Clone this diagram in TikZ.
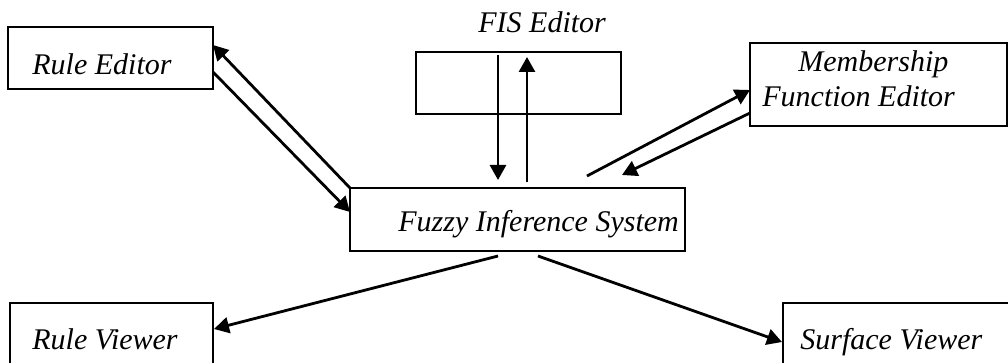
\documentclass[tikz,border=0pt]{standalone}
\usepackage{fontspec}
\setmainfont{Liberation Serif}
\usetikzlibrary{arrows.meta,calc}
\begin{document}
\begin{tikzpicture}[
  x=0.5pt, y=-0.5pt,
  box/.style={draw, line width=1pt, inner sep=0pt, outer sep=0pt, rectangle},
  lbl/.style={anchor=base west, inner sep=0pt, font=\fontsize{15}{18}\selectfont\itshape},
  conn/.style={line width=1.4pt, -{Triangle[length=7.5pt,width=8pt]}}
]
\useasboundingbox (0,0) rectangle (1008,363);
\clip (0,0) rectangle (1008,363);

% boxes
\node[box, minimum width=102.5pt, minimum height=31pt]   (ruled) at (110.5,58)   {};
\node[box, minimum width=102.5pt, minimum height=31pt]   (fised) at (518.5,83)   {};
\node[box, minimum width=128.5pt, minimum height=41.5pt] (mfe)   at (878.5,84.5) {};
\node[box, minimum width=167.5pt, minimum height=31.5pt] (fis)   at (517.5,219.5){};
\node[box, minimum width=101.5pt, minimum height=48.5pt] (rview) at (111.5,351.5){};
\node[box, minimum width=158.5pt, minimum height=48.5pt] (sview) at (941.5,351.5){};

% labels
\node[lbl] (tre)  at (32,75)   {Rule Editor};
\node[lbl] (tfe)  at (478,33)  {FIS Editor};
\node[lbl] (tm1)  at (798,72)  {Membership};
\node[lbl] (tm2)  at (762,107) {Function Editor};
\node[lbl] (tfis) at (398,232) {Fuzzy Inference System};
\node[lbl] (trv)  at (32,350)  {Rule Viewer};
\node[lbl] (tsv)  at (800,350) {Surface Viewer};

% free ends near the inference system
\coordinate (m1) at (587,176);
\coordinate (m2) at (622,175);

% connectors
\draw[conn] (fis.north west) -- ($(ruled.north east)+(0,18)$);
\draw[conn] ($(ruled.north east)+(0,45)$) -- ($(fis.north west)+(0,24)$);
\draw[conn] ($(fised.north west)+(82,3)$) -- ($(fis.north west)+(148,-8)$);
\draw[conn] ($(fis.north west)+(177,-6)$) -- ($(fised.north west)+(111,5)$);
\draw[conn] (m1) -- ($(mfe.north west)+(0,47)$);
\draw[conn] ($(mfe.north west)+(0,70)$) -- (m2);
\draw[conn] ($(fis.south west)+(148,5)$) -- ($(rview.north east)+(1,26)$);
\draw[conn] ($(fis.south west)+(188,5)$) -- ($(sview.north west)+(-1,39)$);
\end{tikzpicture}
\end{document}
